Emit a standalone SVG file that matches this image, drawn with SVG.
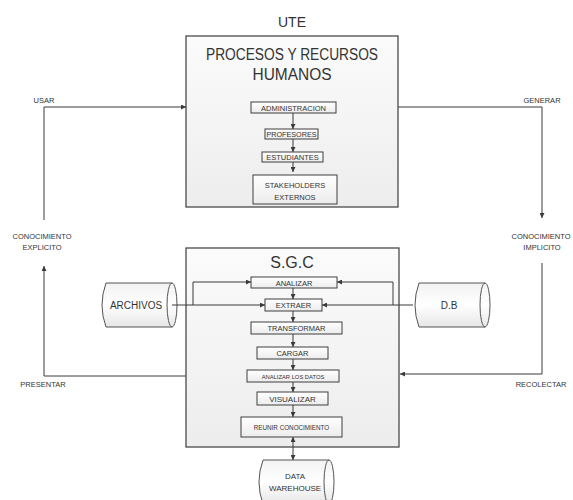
<svg xmlns="http://www.w3.org/2000/svg" width="573" height="500" viewBox="0 0 573 500">
  <defs>
    <linearGradient id="gPanel" x1="0" y1="0" x2="0" y2="1">
      <stop offset="0" stop-color="#fbfbfb"/>
      <stop offset="1" stop-color="#ededed"/>
    </linearGradient>
    <linearGradient id="gStep" x1="0" y1="0" x2="0" y2="1">
      <stop offset="0" stop-color="#ffffff"/>
      <stop offset="1" stop-color="#ececec"/>
    </linearGradient>
    <linearGradient id="gDrum" x1="0" y1="0" x2="0" y2="1">
      <stop offset="0" stop-color="#f2f2f2"/>
      <stop offset="0.5" stop-color="#ffffff"/>
      <stop offset="1" stop-color="#e6e6e6"/>
    </linearGradient>
    <marker id="arrow" viewBox="0 0 10 10" refX="10" refY="5" markerWidth="5" markerHeight="5" orient="auto-start-reverse" markerUnits="userSpaceOnUse">
      <path d="M0,0 L10,5 L0,10 z" fill="#3a3a3a"/>
    </marker>
  </defs>
  <style>
    text { font-family: "Liberation Sans", Arial, sans-serif; fill: #333333; text-anchor: middle; }
    .panel { fill: url(#gPanel); stroke: #4a4a4a; stroke-width: 1.3; }
    .step { fill: url(#gStep); stroke: #3f3f3f; stroke-width: 1; }
    .drum { fill: url(#gDrum); stroke: #555555; stroke-width: 1; }
    .drumEnd { fill: none; stroke: #555555; stroke-width: 1; }
    .wire { fill: none; stroke: #3a3a3a; stroke-width: 1; }
    .arr { marker-end: url(#arrow); }
    .big { font-size: 16px; }
    .small { font-size: 7.5px; }
    .label { font-size: 7.5px; }
  </style>

  <rect width="573" height="500" fill="#ffffff"/>

  <!-- UTE panel -->
  <g id="ute">
    <text x="292" y="27" style="font-size:14px">UTE</text>
    <rect class="panel" x="186" y="36" width="212" height="171"/>
    <text class="big" x="292" y="60" textLength="172" lengthAdjust="spacingAndGlyphs">PROCESOS Y RECURSOS</text>
    <text class="big" x="292" y="80" textLength="79" lengthAdjust="spacingAndGlyphs">HUMANOS</text>
  </g>
  <g id="administracion">
    <rect class="step" x="251" y="102" width="85" height="11"/>
    <text class="small" x="293.5" y="110.6">ADMINISTRACION</text>
  </g>
  <g id="profesores">
    <rect class="step" x="265" y="129" width="53" height="10"/>
    <text class="small" x="291.5" y="137" textLength="50" lengthAdjust="spacingAndGlyphs">PROFESORES</text>
  </g>
  <g id="estudiantes">
    <rect class="step" x="262" y="152" width="61" height="10"/>
    <text class="small" x="292.5" y="160">ESTUDIANTES</text>
  </g>
  <g id="stakeholders">
    <rect class="step" x="253" y="175" width="84" height="29"/>
    <text class="small" x="295" y="188">STAKEHOLDERS</text>
    <text class="small" x="295" y="200">EXTERNOS</text>
  </g>

  <!-- S.G.C panel -->
  <g id="sgc">
    <rect class="panel" x="186" y="248" width="213" height="199"/>
    <text x="292" y="268" style="font-size:16px">S.G.C</text>
  </g>
  <g id="analizar">
    <rect class="step" x="251" y="277" width="86" height="11"/>
    <text class="small" x="294" y="285.5">ANALIZAR</text>
  </g>
  <g id="extraer">
    <rect class="step" x="265" y="299" width="57" height="12"/>
    <text class="small" x="293.5" y="308">EXTRAER</text>
  </g>
  <g id="transformar">
    <rect class="step" x="251" y="322" width="91" height="12"/>
    <text class="small" x="296.5" y="331">TRANSFORMAR</text>
  </g>
  <g id="cargar">
    <rect class="step" x="257" y="347" width="71" height="12"/>
    <text class="small" x="292.5" y="356">CARGAR</text>
  </g>
  <g id="analizar-datos">
    <rect class="step" x="247" y="370" width="92" height="12"/>
    <text x="293" y="378.5" style="font-size:5.8px">ANALIZAR LOS DATOS</text>
  </g>
  <g id="visualizar">
    <rect class="step" x="257" y="392" width="71" height="13"/>
    <text x="292.5" y="401.5" style="font-size:8px">VISUALIZAR</text>
  </g>
  <g id="reunir">
    <rect class="step" x="241" y="417" width="101" height="20"/>
    <text x="291.5" y="429.5" style="font-size:6.3px">REUNIR CONOCIMIENTO</text>
  </g>

  <!-- data stores -->
  <g id="archivos">
    <path class="drum" d="M106,283 L172,283 A5,22 0 0 1 172,327 L106,327 Q98,305 106,283 z"/>
    <path class="drumEnd" d="M172,283 A5,22 0 0 0 172,327"/>
    <text x="136" y="309" style="font-size:10px">ARCHIVOS</text>
  </g>
  <g id="db">
    <path class="drum" d="M419,283 L485,283 A5,22 0 0 1 485,327 L419,327 Q411,305 419,283 z"/>
    <path class="drumEnd" d="M485,283 A5,22 0 0 0 485,327"/>
    <text x="449" y="309" style="font-size:10px">D.B</text>
  </g>
  <g id="data-warehouse">
    <path class="drum" d="M263,460 L329,460 A5,22 0 0 1 329,504 L263,504 Q255,482 263,460 z"/>
    <path class="drumEnd" d="M329,460 A5,22 0 0 0 329,504"/>
    <text x="295" y="479" style="font-size:8px">DATA</text>
    <text x="295" y="491" style="font-size:8px">WAREHOUSE</text>
  </g>

  <!-- knowledge labels -->
  <g id="explicito">
    <text class="label" x="42" y="239">CONOCIMIENTO</text>
    <text class="label" x="42" y="250">EXPLICITO</text>
  </g>
  <g id="implicito">
    <text class="label" x="541" y="239">CONOCIMIENTO</text>
    <text class="label" x="542" y="250">IMPLICITO</text>
  </g>

  <!-- connectors -->
  <g id="connectors">
    <!-- outer knowledge cycle -->
    <polyline class="wire arr" points="44,220 44,107 186,107"/>
    <polyline class="wire arr" points="398,107 542,107 542,218"/>
    <polyline class="wire arr" points="542,263 542,374 400,374"/>
    <polyline class="wire arr" points="186,376 44,376 44,266"/>

    <!-- UTE chain -->
    <line class="wire arr" x1="293" y1="113" x2="293" y2="129"/>
    <line class="wire arr" x1="293" y1="139" x2="293" y2="152"/>
    <line class="wire arr" x1="293" y1="162" x2="293" y2="172"/>

    <!-- sources into S.G.C -->
    <line class="wire arr" x1="172" y1="305" x2="265" y2="305"/>
    <polyline class="wire arr" points="193,305 193,282 251,282"/>
    <line class="wire arr" x1="413" y1="305" x2="322" y2="305"/>
    <polyline class="wire arr" points="393,305 393,282 337,282"/>

    <!-- S.G.C chain -->
    <line class="wire arr" x1="293" y1="288" x2="293" y2="299"/>
    <line class="wire arr" x1="293" y1="311" x2="293" y2="322"/>
    <line class="wire arr" x1="293" y1="334" x2="293" y2="347"/>
    <line class="wire arr" x1="293" y1="359" x2="293" y2="370"/>
    <line class="wire arr" x1="293" y1="382" x2="293" y2="392"/>
    <line class="wire arr" x1="293" y1="405" x2="293" y2="417"/>
    <line class="wire arr" x1="293" y1="437" x2="293" y2="460" style="marker-start:url(#arrow)"/>
  </g>

  <!-- cycle labels -->
  <g id="cycle-labels">
    <text class="label" x="44" y="103">USAR</text>
    <text class="label" x="542" y="103">GENERAR</text>
    <text class="label" x="43" y="387">PRESENTAR</text>
    <text class="label" x="541" y="387">RECOLECTAR</text>
  </g>
</svg>
